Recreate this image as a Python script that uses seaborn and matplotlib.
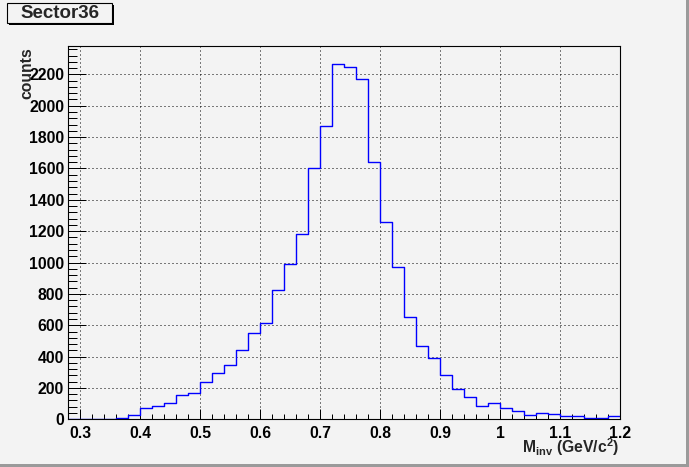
import numpy as np
import pandas as pd
import seaborn as sns
import matplotlib.pyplot as plt
from matplotlib.patches import Rectangle
from matplotlib.ticker import MultipleLocator, FormatStrFormatter

# histogram: 46 bins of width 0.02 starting at 0.28
bin_start = 0.28
bin_width = 0.02
counts = [
    0, 0, 0, 0, 6, 25, 70, 83, 104, 153,
    168, 236, 295, 346, 440, 548, 614, 825, 988, 1182,
    1601, 1868, 2264, 2245, 2168, 1639, 1256, 969, 653, 468,
    389, 281, 191, 140, 83, 102, 70, 53, 25, 38,
    32, 21, 21, 6, 6, 21,
]
title = "Sector36"
x_label = r"M$_{\mathrm{inv}}$ (GeV/c$^{\mathrm{2}}$)"
y_label = "counts"

edges = bin_start + bin_width * np.arange(len(counts) + 1)
df = pd.DataFrame({"m": edges[:-1] + bin_width / 2, "n": counts})

W, H = 689, 467
bg = "#f3f3f3"

sns.set_style("ticks")
plt.rcParams["font.family"] = ["Liberation Sans", "DejaVu Sans"]
plt.rcParams["font.weight"] = "bold"
plt.rcParams["mathtext.fontset"] = "custom"
plt.rcParams["mathtext.rm"] = "Liberation Sans:bold"
plt.rcParams["mathtext.it"] = "Liberation Sans:bold"
plt.rcParams["mathtext.bf"] = "Liberation Sans:bold"

fig = plt.figure(figsize=(W / 100, H / 100), dpi=100, facecolor=bg)
ax = fig.add_axes([68.3 / W, 1 - 419.3 / H, (620 - 68.3) / W, (419.3 - 46) / H])
ax.set_facecolor(bg)

sns.histplot(data=df, x="m", weights="n", bins=list(edges), element="step",
             fill=False, color="#0000ff", linewidth=1.0, ax=ax)

ax.set_xticks(np.arange(3, 13) / 10)
ax.set_xlim(bin_start, edges[-1])
ax.set_ylim(0, 2381)
ax.xaxis.set_minor_locator(MultipleLocator(0.02))
ax.yaxis.set_major_locator(MultipleLocator(200))
ax.yaxis.set_minor_locator(MultipleLocator(40))
ax.xaxis.set_major_formatter(FormatStrFormatter("%g"))

ax.tick_params(axis="both", which="both", direction="in", colors="black",
               labelsize=11.3, width=0.72)
ax.tick_params(axis="x", which="major", length=7.2, pad=5)
ax.tick_params(axis="x", which="minor", length=3.6)
ax.tick_params(axis="y", which="major", length=13, pad=3)
ax.tick_params(axis="y", which="minor", length=6.5)
for lab in ax.get_xticklabels() + ax.get_yticklabels():
    lab.set_fontweight("bold")

ax.grid(True, which="major", color="black", linestyle=(0, (1, 3)), linewidth=0.72)
for s in ax.spines.values():
    s.set_visible(True)
    s.set_color("black")
    s.set_linewidth(0.8)
ax.set_xlabel("")
ax.set_ylabel("")

fig.text(27 / W, 1 - 47 / H, y_label, rotation=90, ha="center", va="top",
         fontsize=11.3, fontweight="bold")
fig.text(619 / W, 1 - 453 / H, x_label, ha="right", va="baseline",
         fontsize=11.3, fontweight="bold")

# title box with shadow
fig.add_artist(Rectangle((9 / W, 1 - 25 / H), 105 / W, 20 / H,
                         transform=fig.transFigure, facecolor="black", edgecolor="none"))
fig.add_artist(Rectangle((7 / W, 1 - 23 / H), 105 / W, 20 / H,
                         transform=fig.transFigure, facecolor=bg, edgecolor="black",
                         linewidth=0.8))
fig.text(59.5 / W, 1 - 13 / H, title, ha="center", va="center",
         fontsize=13.5, fontweight="bold")

# canvas bevel
fig.add_artist(Rectangle((1 - 3 / W, 0), 3 / W, 1, transform=fig.transFigure,
                         facecolor="#9a9a9a", edgecolor="none"))
fig.add_artist(Rectangle((0, 0), 1, 3 / H, transform=fig.transFigure,
                         facecolor="#9a9a9a", edgecolor="none"))

fig.savefig("out.png", dpi=100, facecolor=bg)
